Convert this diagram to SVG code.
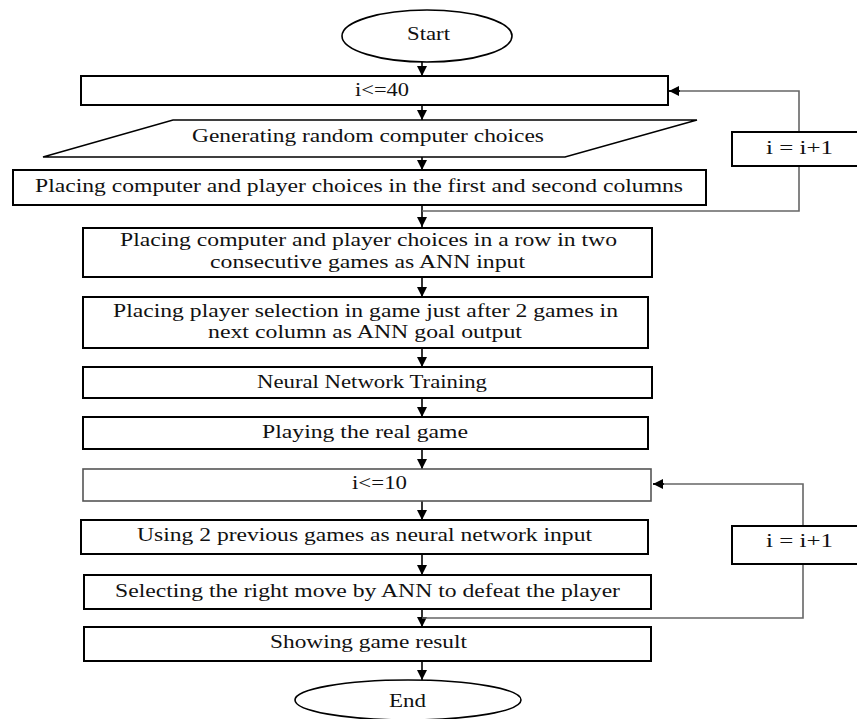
<svg xmlns="http://www.w3.org/2000/svg" width="857" height="719" viewBox="0 0 857 719">
<style>
.box{fill:#fff;stroke:#000;stroke-width:2}
.thin{fill:#fff;stroke:#555;stroke-width:1.6}
text{font-family:'Liberation Serif','DejaVu Serif','Times New Roman',serif;font-size:18px;fill:#111}
.ln{fill:none;stroke:#000;stroke-width:1.6}
.loop{fill:none;stroke:#666;stroke-width:1.6}
</style>
<defs>
<marker id="ah" viewBox="0 0 10 10" refX="10" refY="5" markerWidth="10" markerHeight="10" markerUnits="userSpaceOnUse" orient="auto">
<path d="M0,0 L10,5 L0,10 Z" fill="#000"/>
</marker>
</defs>
<rect width="857" height="719" fill="#fff"/>
<g id="connectors">
<line class="ln" x1="422" y1="62" x2="422" y2="76" marker-end="url(#ah)"/>
<line class="ln" x1="422" y1="105" x2="422" y2="120" marker-end="url(#ah)"/>
<line class="ln" x1="422" y1="157" x2="422" y2="170" marker-end="url(#ah)"/>
<line class="ln" x1="422" y1="205" x2="422" y2="227" marker-end="url(#ah)"/>
<line class="ln" x1="422" y1="277" x2="422" y2="297" marker-end="url(#ah)"/>
<line class="ln" x1="422" y1="348" x2="422" y2="367" marker-end="url(#ah)"/>
<line class="ln" x1="422" y1="398" x2="422" y2="417" marker-end="url(#ah)"/>
<line class="ln" x1="422" y1="449" x2="422" y2="469" marker-end="url(#ah)"/>
<line class="ln" x1="422" y1="501" x2="422" y2="520" marker-end="url(#ah)"/>
<line class="ln" x1="422" y1="554" x2="422" y2="575" marker-end="url(#ah)"/>
<line class="ln" x1="422" y1="609" x2="422" y2="627" marker-end="url(#ah)"/>
<line class="ln" x1="422" y1="661" x2="422" y2="680" marker-end="url(#ah)"/>
<polyline class="loop" points="422,211 799,211 799,166"/>
<polyline class="loop" points="799,132 799,91 669,91"/>
<line class="ln" x1="680" y1="91" x2="669" y2="91" marker-end="url(#ah)"/>
<polyline class="loop" points="422,618 803,618 803,564"/>
<polyline class="loop" points="803,526 803,484 653,484"/>
<line class="ln" x1="664" y1="484" x2="653" y2="484" marker-end="url(#ah)"/>
</g>
<g id="start">
<ellipse cx="427" cy="36" rx="85" ry="26" fill="#fff" stroke="#000" stroke-width="1.6"/>
<text x="407" y="40" textLength="43" lengthAdjust="spacingAndGlyphs">Start</text>
</g>
<g id="cond40">
<rect class="box" x="81" y="76" width="587" height="29"/>
<text x="355" y="96" textLength="54" lengthAdjust="spacingAndGlyphs">i&lt;=40</text>
</g>
<g id="generate">
<polygon points="173,120 697,120 565,157 43,157" fill="#fff" stroke="#000" stroke-width="1.5"/>
<text x="192" y="142" textLength="352" lengthAdjust="spacingAndGlyphs">Generating random computer choices</text>
</g>
<g id="place1">
<rect class="box" x="13" y="170" width="693" height="35"/>
<text x="35" y="192" textLength="648" lengthAdjust="spacingAndGlyphs">Placing computer and player choices in the first and second columns</text>
</g>
<g id="inc1">
<rect class="box" x="732" y="132" width="140" height="34"/>
<text x="766" y="154" textLength="67" lengthAdjust="spacingAndGlyphs">i = i+1</text>
</g>
<g id="place2">
<rect class="box" x="83" y="228" width="569" height="49"/>
<text x="120" y="246" textLength="497" lengthAdjust="spacingAndGlyphs">Placing computer and player choices in a row in two</text>
<text x="210" y="268" textLength="315" lengthAdjust="spacingAndGlyphs">consecutive games as ANN input</text>
</g>
<g id="place3">
<rect class="box" x="83" y="297" width="565" height="51"/>
<text x="113" y="317" textLength="505" lengthAdjust="spacingAndGlyphs">Placing player selection in game just after 2 games in</text>
<text x="208" y="338" textLength="314" lengthAdjust="spacingAndGlyphs">next column as ANN goal output</text>
</g>
<g id="train">
<rect class="box" x="83" y="367" width="569" height="31"/>
<text x="257" y="388" textLength="230" lengthAdjust="spacingAndGlyphs">Neural Network Training</text>
</g>
<g id="play">
<rect class="box" x="83" y="417" width="565" height="32"/>
<text x="262" y="438" textLength="206" lengthAdjust="spacingAndGlyphs">Playing the real game</text>
</g>
<g id="cond10">
<rect class="thin" x="83" y="469" width="568" height="32"/>
<text x="352" y="489" textLength="55" lengthAdjust="spacingAndGlyphs">i&lt;=10</text>
</g>
<g id="useprev">
<rect class="box" x="81" y="520" width="567" height="34"/>
<text x="137" y="541" textLength="455" lengthAdjust="spacingAndGlyphs">Using 2 previous games as neural network input</text>
</g>
<g id="select">
<rect class="box" x="84" y="575" width="567" height="34"/>
<text x="115" y="597" textLength="505" lengthAdjust="spacingAndGlyphs">Selecting the right move by ANN to defeat the player</text>
</g>
<g id="inc2">
<rect class="box" x="732" y="526" width="140" height="38"/>
<text x="766" y="547" textLength="67" lengthAdjust="spacingAndGlyphs">i = i+1</text>
</g>
<g id="result">
<rect class="box" x="84" y="627" width="567" height="34"/>
<text x="270" y="648" textLength="197" lengthAdjust="spacingAndGlyphs">Showing game result</text>
</g>
<g id="end">
<ellipse cx="408" cy="700" rx="113" ry="20" fill="#fff" stroke="#000" stroke-width="1.6"/>
<text x="389" y="707" textLength="37" lengthAdjust="spacingAndGlyphs">End</text>
</g>
</svg>
